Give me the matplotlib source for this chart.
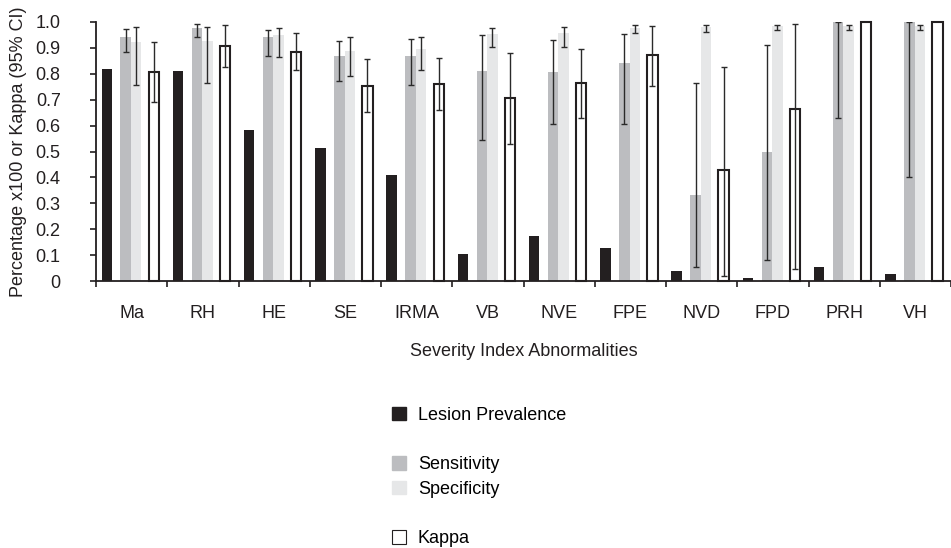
import matplotlib.pyplot as plt
import numpy as np
from matplotlib.patches import Patch

plt.rcParams['font.family'] = ['Liberation Sans', 'DejaVu Sans']

categories = ['Ma', 'RH', 'HE', 'SE', 'IRMA', 'VB', 'NVE', 'FPE', 'NVD', 'FPD', 'PRH', 'VH']

prevalence = [0.82, 0.81, 0.582, 0.514, 0.409, 0.104, 0.174, 0.127, 0.039, 0.012, 0.054, 0.027]

sensitivity = [0.942, 0.978, 0.942, 0.869, 0.869, 0.811, 0.807, 0.842, 0.332, 0.498, 1.0, 1.0]
sens_lo = [0.884, 0.94, 0.87, 0.773, 0.757, 0.544, 0.606, 0.605, 0.053, 0.081, 0.629, 0.403]
sens_hi = [0.972, 0.991, 0.969, 0.928, 0.933, 0.95, 0.929, 0.952, 0.764, 0.911, 1.0, 1.0]

specificity = [0.924, 0.927, 0.949, 0.888, 0.896, 0.955, 0.959, 0.975, 0.98, 0.985, 0.985, 0.985]
spec_lo = [0.757, 0.763, 0.864, 0.792, 0.815, 0.905, 0.905, 0.958, 0.962, 0.97, 0.97, 0.97]
spec_hi = [0.982, 0.982, 0.977, 0.94, 0.942, 0.977, 0.98, 0.99, 0.99, 0.99, 0.99, 0.99]

kappa = [0.806, 0.909, 0.885, 0.754, 0.762, 0.705, 0.763, 0.871, 0.427, 0.663, 1.0, 1.0]
kappa_lo = [0.691, 0.827, 0.815, 0.654, 0.66, 0.53, 0.629, 0.753, 0.019, 0.045, 1.0, 1.0]
kappa_hi = [0.922, 0.988, 0.956, 0.857, 0.862, 0.88, 0.896, 0.985, 0.827, 0.992, 1.0, 1.0]

c_prev = '#231f20'
c_sens = '#bcbdc0'
c_spec = '#e6e7e8'
c_err = '#2a2a2a'
fs = 13

x = np.arange(len(categories))
w = 0.147

fig = plt.figure(figsize=(9.51, 5.48), dpi=100)
ax = fig.add_axes([0.101, 0.487, 0.899, 0.473])

def yerr(v, lo, hi):
    v, lo, hi = map(np.array, (v, lo, hi))
    return [np.clip(v - lo, 0, None), np.clip(hi - v, 0, None)]

ek = dict(ecolor=c_err, elinewidth=1.0, capsize=2.2, capthick=1.0)

ax.bar(x - 0.35, prevalence, w, color=c_prev, clip_on=False)
ax.bar(x - 0.084, sensitivity, w, color=c_sens, clip_on=False,
       yerr=yerr(sensitivity, sens_lo, sens_hi), error_kw=ek)
ax.bar(x + 0.063, specificity, w, color=c_spec, clip_on=False,
       yerr=yerr(specificity, spec_lo, spec_hi), error_kw=ek)

# kappa bars; only draw whiskers where the interval has width
ax.bar(x + 0.31, kappa, w, facecolor='white', edgecolor=c_prev, linewidth=1.5,
       clip_on=False)
kerr = yerr(kappa, kappa_lo, kappa_hi)
has_ci = (kerr[0] + kerr[1]) > 0
ax.errorbar((x + 0.31)[has_ci], np.array(kappa)[has_ci],
            yerr=[kerr[0][has_ci], kerr[1][has_ci]], fmt='none', **ek)

ax.set_xlim(-0.5, len(categories) - 0.5)
ax.set_ylim(0, 1.0)
ax.set_yticks(np.arange(0, 1.01, 0.1))
ax.set_yticklabels(['0'] + ['%.1f' % v for v in np.arange(0.1, 1.01, 0.1)])
ax.set_xticks(x)
ax.set_xticklabels(categories)
ax.set_xticks(np.arange(-0.5, len(categories), 1.0), minor=True)
ax.tick_params(axis='x', which='major', length=0, pad=17, labelsize=fs, colors='#231f20')
ax.tick_params(axis='x', which='minor', length=4, width=1.2, direction='out', color='#231f20')
ax.tick_params(axis='y', length=4.5, width=1.2, direction='out', labelsize=fs, pad=21,
               colors='#231f20')

for s in ['top', 'right']:
    ax.spines[s].set_visible(False)
for s in ['left', 'bottom']:
    ax.spines[s].set_linewidth(1.3)
    ax.spines[s].set_color('#231f20')

ax.set_xlabel('Severity Index Abnormalities', fontsize=fs, labelpad=15, color='#231f20')
ax.set_ylabel('Percentage x100 or Kappa (95% CI)', fontsize=fs, labelpad=6, color='#231f20')

handles = [
    Patch(facecolor=c_prev, edgecolor=c_prev),
    Patch(facecolor='none', edgecolor='none'),
    Patch(facecolor=c_sens, edgecolor=c_sens),
    Patch(facecolor=c_spec, edgecolor=c_spec),
    Patch(facecolor='none', edgecolor='none'),
    Patch(facecolor='white', edgecolor=c_prev, linewidth=0.8),
]
labels = ['Lesion Prevalence', ' ', 'Sensitivity', 'Specificity', ' ', 'Kappa']
fig.legend(handles, labels, loc='upper left', bbox_to_anchor=(0.412, 0.2575),
           frameon=False, fontsize=fs, handlelength=0.78, handleheight=0.78,
           handletextpad=0.67, labelspacing=0.42, borderaxespad=0, borderpad=0)

fig.savefig('out.png', dpi=100)
